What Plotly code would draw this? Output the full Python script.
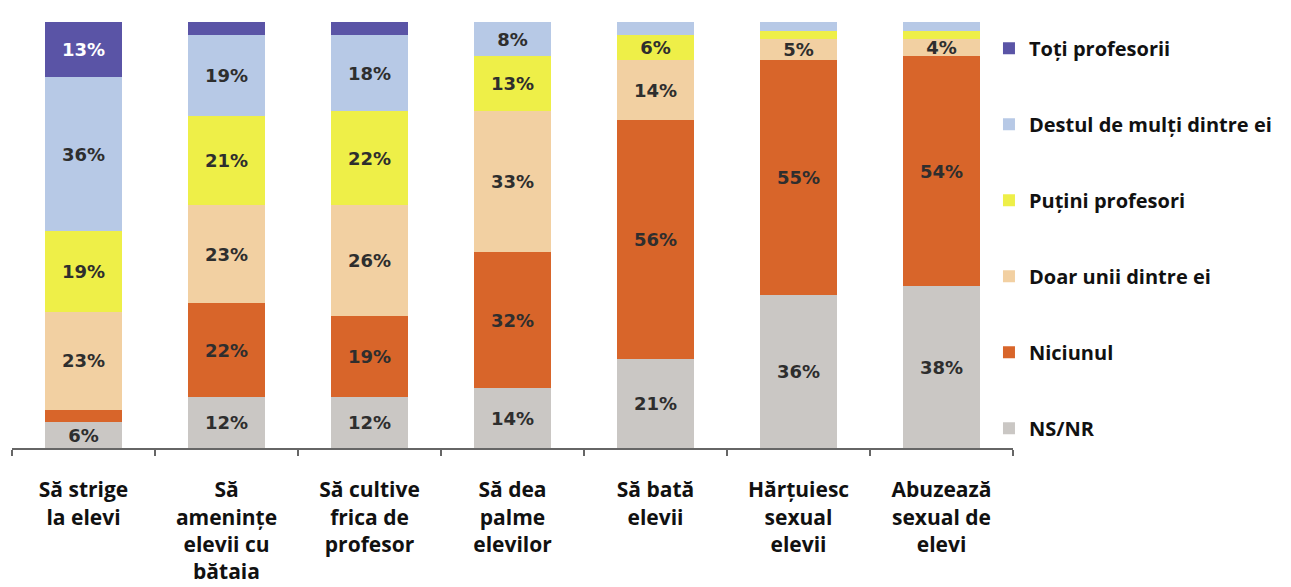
import plotly.graph_objects as go

categories = [
    "Să strige<br>la elevi",
    "Să<br>amenințe<br>elevii cu<br>bătaia",
    "Să cultive<br>frica de<br>profesor",
    "Să dea<br>palme<br>elevilor",
    "Să bată<br>elevii",
    "Hărțuiesc<br>sexual<br>elevii",
    "Abuzează<br>sexual de<br>elevi",
]

series_names = ["NS/NR", "Niciunul", "Doar unii dintre ei", "Puțini profesori",
                "Destul de mulți dintre ei", "Toți profesorii"]

ns_nr = [6, 12, 12, 14, 21, 36, 38]
niciunul = [3, 22, 19, 32, 56, 55, 54]
doar_unii = [23, 23, 26, 33, 14, 5, 4]
putini = [19, 21, 22, 13, 6, 2, 2]
destul = [36, 19, 18, 8, 3, 2, 2]
toti = [13, 3, 3, 0, 0, 0, 0]

values = [ns_nr, niciunul, doar_unii, putini, destul, toti]
colors = ["#cac7c4", "#d8652a", "#f2d0a2", "#eeef48", "#b7c9e6", "#5a54a6"]
text_colors = ["#2e2e2e", "#2e2e2e", "#2e2e2e", "#2e2e2e", "#2e2e2e", "#ffffff"]

fig = go.Figure()
n = len(series_names)
for i, (name, vals) in enumerate(zip(series_names, values)):
    fig.add_trace(go.Bar(
        x=categories, y=vals, name=name,
        marker=dict(color=colors[i], line=dict(width=0)),
        text=[f"{v}%" if v >= 4 else "" for v in vals],
        textposition="inside", insidetextanchor="middle", textangle=0,
        textfont=dict(family="DejaVu Sans", size=18, color=text_colors[i], weight="bold"),
        legendgroup=name,
        legendrank=(n - i) * 100,
        hoverinfo="skip",
    ))

fig.update_layout(
    barmode="stack",
    bargap=0.455,
    width=1291, height=587,
    margin=dict(l=12, r=278, t=22, b=139, autoexpand=False),
    plot_bgcolor="white", paper_bgcolor="white",
    uniformtext=dict(mode="show", minsize=18),
    showlegend=True,
    legend=dict(
        x=0.976, xanchor="left", y=0.984, yanchor="top",
        traceorder="grouped", tracegroupgap=47,
        font=dict(family="Open Sans", size=20, color="#111111", weight="bold"),
        bgcolor="rgba(0,0,0,0)",
    ),
)
fig.update_xaxes(
    automargin=False,
    showline=True, linecolor="#666666", linewidth=2,
    ticks="outside", tickson="boundaries", ticklen=6, tickcolor="#666666", tickwidth=2,
    tickfont=dict(family="Open Sans", size=21, color="#111111", weight="bold"),
    ticklabelstandoff=22,
    showgrid=False,
)
fig.update_yaxes(range=[0, 100], visible=False, showgrid=False, automargin=False)

fig.write_html(
    "out.html",
    config={"displayModeBar": False},
    post_script="document.body.style.margin='0';document.body.style.overflow='hidden';",
)
